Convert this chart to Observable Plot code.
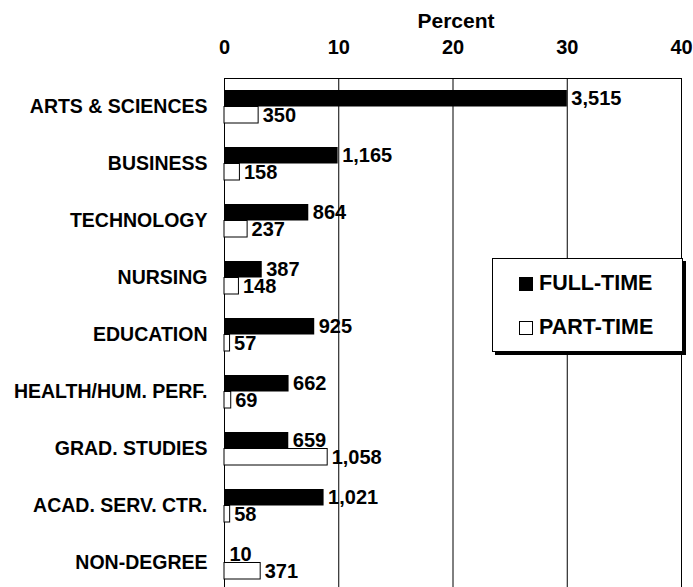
<!DOCTYPE html>
<html>
<head>
<meta charset="utf-8">
<script src="https://cdn.jsdelivr.net/npm/d3@7"></script>
<script src="https://cdn.jsdelivr.net/npm/@observablehq/plot@0.6"></script>
<style>
  html, body { margin: 0; padding: 0; overflow: hidden; background: #fff; }
  #wrap { position: relative; width: 693px; height: 587px; }
  #legend {
    position: absolute; left: 492px; top: 258px; width: 189px; height: 92px;
    border: 1px solid #000; background: #fff; box-shadow: 3px 3px 0 #000;
    font-family: "Liberation Sans", Arial, sans-serif; font-weight: bold; font-size: 21.5px;
  }
  .item { position: absolute; left: 26px; display: flex; align-items: center; }
  .sw { width: 14px; height: 14px; border: 1px solid #000; margin-right: 6px; box-sizing: border-box; }
</style>
</head>
<body>
<div id="wrap">
  <div id="chart"></div>
  <div id="legend">
    <div class="item" style="top:12px"><div class="sw" style="background:#000"></div><span>FULL-TIME</span></div>
    <div class="item" style="top:56px"><div class="sw" style="background:#fff"></div><span>PART-TIME</span></div>
  </div>
</div>
<script>
const categories = ["ARTS & SCIENCES", "BUSINESS", "TECHNOLOGY", "NURSING", "EDUCATION",
  "HEALTH/HUM. PERF.", "GRAD. STUDIES", "ACAD. SERV. CTR.", "NON-DEGREE"];
const fullTime = [3515, 1165, 864, 387, 925, 662, 659, 1021, 10];
const partTime = [350, 158, 237, 148, 57, 69, 1058, 58, 371];
const xTicks = [0, 10, 20, 30, 40];
const gridTicks = [10, 20, 30];

const grandTotal = d3.sum(fullTime) + d3.sum(partTime);
const full = categories.map((c, i) => ({category: c, count: fullTime[i], pct: fullTime[i] / grandTotal * 100}));
const part = categories.map((c, i) => ({category: c, count: partTime[i], pct: partTime[i] / grandTotal * 100}));
const fmt = d3.format(",");

const chart = Plot.plot({
  width: 693,
  height: 591,
  marginTop: 78,
  marginLeft: 224,
  marginRight: 12,
  marginBottom: 0,
  style: {fontFamily: "'Liberation Sans', Arial, sans-serif", fontWeight: "bold", fontSize: "20px", background: "#fff", color: "#000"},
  x: {domain: [0, 40], axis: null},
  y: {domain: categories, padding: 0, axis: null},
  marks: [
    Plot.gridX(gridTicks, {stroke: "#000", strokeOpacity: 1}),
    Plot.frame({stroke: "#000"}),
    Plot.barX(full, {x: "pct", y: "category", fill: "#000", insetTop: 12, insetBottom: 28.5}),
    Plot.barX(part, {x: "pct", y: "category", fill: "#fff", stroke: "#000", strokeWidth: 1, insetTop: 28.5, insetBottom: 12}),
    Plot.text(full, {x: "pct", y: "category", text: d => fmt(d.count), textAnchor: "start", dx: 4, dy: -8.5, fontSize: 20, fontWeight: "bold"}),
    Plot.text(part, {x: "pct", y: "category", text: d => fmt(d.count), textAnchor: "start", dx: 4, dy: 8.5, fontSize: 20, fontWeight: "bold"}),
    Plot.axisX(xTicks, {anchor: "top", tickSize: 0, tickPadding: 25, fontSize: 20, fontWeight: "bold", label: null}),
    Plot.axisY({anchor: "left", tickSize: 0, tickPadding: 17, fontSize: 19.5, fontWeight: "bold", label: null}),
    Plot.text(["Percent"], {frameAnchor: "top", dx: 3, dy: -65, fontSize: 21, fontWeight: "bold"})
  ]
});
document.getElementById("chart").appendChild(chart);
</script>
</body>
</html>
